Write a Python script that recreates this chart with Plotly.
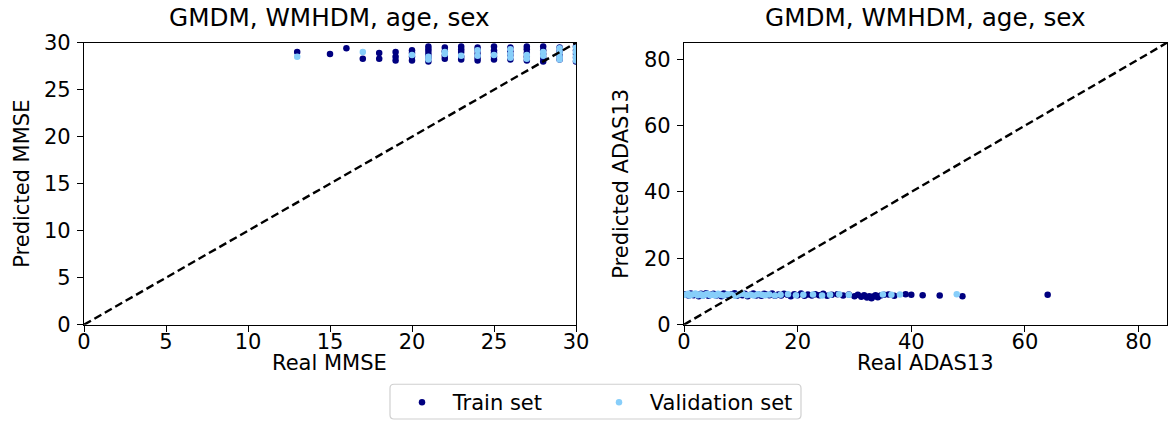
import plotly.graph_objects as go

# ---- MMSE panel: real vs predicted ----
mmse_train_real = [13, 15, 16, 17, 18, 18, 19, 19, 19, 20, 20, 20, 20,
                   21, 21, 21, 21, 21, 21, 22, 22, 22, 22,
                   23, 23, 23, 23, 23, 24, 24, 24, 24, 24,
                   25, 25, 25, 25, 25, 26, 26, 26, 26,
                   27, 27, 27, 27, 27, 28, 28, 28, 28, 28,
                   29, 29, 29, 29, 30, 30, 30, 30, 30]
mmse_train_pred = [29.0, 28.8, 29.4, 28.3, 28.9, 28.3, 29.0, 28.5, 28.1, 29.2, 28.9, 28.5, 28.1,
                   29.6, 29.3, 29.0, 28.7, 28.4, 28.0, 29.5, 29.1, 28.6, 28.3,
                   29.6, 29.3, 29.0, 28.5, 28.2, 29.5, 29.2, 28.8, 28.4, 28.1,
                   29.6, 29.2, 28.9, 28.5, 28.2, 29.5, 29.1, 28.7, 28.2,
                   29.6, 29.3, 28.9, 28.5, 28.1, 29.6, 29.2, 28.8, 28.4, 28.0,
                   29.5, 29.1, 28.6, 28.2, 29.6, 29.2, 28.8, 28.4, 28.0]

mmse_val_real = [13, 17, 20, 21, 21, 22, 22, 23, 24, 24, 25,
                 26, 26, 26, 27, 27, 28, 28, 29, 29, 29, 29, 30, 30, 30, 30]
mmse_val_pred = [28.5, 29.0, 28.7, 28.5, 28.2, 29.0, 28.8, 28.6, 29.2, 28.6, 28.7,
                 29.3, 28.8, 28.4, 28.7, 28.3, 29.0, 28.6, 29.4, 29.0, 28.5, 28.2,
                 29.5, 29.0, 28.5, 28.1]

# ---- ADAS13 panel: real vs predicted ----
adas_train_real = [0.3, 0.8, 1.2, 1.7, 2.1, 2.6, 3.0, 3.4, 3.9, 4.3, 4.8, 5.2, 5.7, 6.1,
                   6.6, 7.0, 7.5, 8.0, 8.4, 8.9, 9.3, 9.8, 10.3, 10.7, 11.2, 11.7, 12.2,
                   12.7, 13.1, 13.6, 14.1, 14.6, 15.0, 15.5, 16.0, 16.6, 17.1, 17.6, 18.2,
                   18.8, 19.4, 20.0, 20.6, 21.2, 21.8, 22.5, 23.1, 23.8, 24.5, 25.2, 26.0,
                   27.0, 28.0, 29.0, 30.0, 30.6, 31.2, 31.7, 32.2, 32.6, 33.0, 33.3, 33.7,
                   34.1, 34.6, 35.2, 36.0, 37.0, 39.0, 40.0, 42.0, 45.0, 49.0, 64.0]
adas_train_pred = [9.2, 8.8, 9.4, 8.9, 9.1, 8.6, 9.3, 8.9, 9.5, 8.7, 9.0, 9.3, 8.8, 9.1,
                   8.6, 9.4, 9.0, 8.8, 9.2, 9.5, 8.7, 9.1, 8.9, 9.3, 8.6, 9.0, 9.4,
                   8.8, 9.1, 8.7, 9.3, 9.0, 8.9, 9.4, 8.7, 9.1, 8.8, 9.3, 9.0,
                   8.6, 9.2, 8.9, 9.4, 8.7, 9.1, 8.8, 9.2, 8.9, 9.3, 8.7, 9.0,
                   9.2, 8.8, 9.1, 8.6, 9.0, 8.4, 8.9, 8.2, 8.6, 8.0, 8.5, 8.9,
                   8.3, 8.8, 9.0, 9.1, 8.7, 9.2, 9.0, 8.9, 8.8, 8.6, 9.0]

adas_val_real = [0.2, 0.7, 1.0, 1.5, 2.0, 2.4, 2.9, 3.3, 3.7, 4.1, 4.6, 5.0, 5.5, 6.0,
                 6.4, 7.0, 7.7, 8.3, 9.0, 9.6, 10.3, 11.0, 11.7, 12.3, 13.0, 13.7, 14.3,
                 15.0, 16.0, 17.0, 18.3, 19.7, 21.0, 22.7, 24.3, 25.7, 27.3, 29.0,
                 35.0, 36.5, 38.0, 48.0]
adas_val_pred = [9.0, 9.3, 8.8, 9.1, 9.4, 8.9, 9.2, 8.7, 9.0, 9.3, 8.9, 9.1, 8.8, 9.3,
                 9.0, 8.8, 9.2, 9.0, 8.7, 9.1, 9.3, 8.9, 9.0, 8.8, 9.2, 9.0, 8.9,
                 9.1, 8.8, 9.0, 9.2, 8.9, 9.0, 9.1, 8.8, 9.0, 9.2, 9.0,
                 9.1, 9.0, 9.1, 9.2]

titles = ["GMDM, WMHDM, age, sex", "GMDM, WMHDM, age, sex"]
x_labels = ["Real MMSE", "Real ADAS13"]
y_labels = ["Predicted MMSE", "Predicted ADAS13"]
series_names = ["Train set", "Validation set"]
mmse_ticks = [0, 5, 10, 15, 20, 25, 30]
adas_ticks = [0, 20, 40, 60, 80]
mmse_max = 30
adas_max = 85

TRAIN_COLOR = "#000080"
VAL_COLOR = "#87CEFA"
FONT = "DejaVu Sans"
W, H = 1175, 423
MS = 6.5
PAD = "\u00a0\u2009"
FS = 21          # tick, label and legend text
FS_TITLE = 24.7  # panel titles

fig = go.Figure()

# left panel
fig.add_trace(go.Scatter(x=mmse_train_real, y=mmse_train_pred, mode="markers",
                         marker=dict(color=TRAIN_COLOR, size=MS), name=PAD + series_names[0],
                         legendgroup="train", xaxis="x", yaxis="y"))
fig.add_trace(go.Scatter(x=mmse_val_real, y=mmse_val_pred, mode="markers",
                         marker=dict(color=VAL_COLOR, size=MS), name=PAD + series_names[1],
                         legendgroup="val", xaxis="x", yaxis="y"))
fig.add_trace(go.Scatter(x=[0, mmse_max], y=[0, mmse_max], mode="lines",
                         line=dict(color="black", width=2.4, dash="8px,4px"),
                         showlegend=False, xaxis="x", yaxis="y"))

# right panel
fig.add_trace(go.Scatter(x=adas_train_real, y=adas_train_pred, mode="markers",
                         marker=dict(color=TRAIN_COLOR, size=MS), name=series_names[0],
                         legendgroup="train", showlegend=False, xaxis="x2", yaxis="y2"))
fig.add_trace(go.Scatter(x=adas_val_real, y=adas_val_pred, mode="markers",
                         marker=dict(color=VAL_COLOR, size=MS), name=series_names[1],
                         legendgroup="val", showlegend=False, xaxis="x2", yaxis="y2"))
fig.add_trace(go.Scatter(x=[0, adas_max], y=[0, adas_max], mode="lines",
                         line=dict(color="black", width=2.4, dash="8px,4px"),
                         showlegend=False, xaxis="x2", yaxis="y2"))

TICK_FONT = dict(family=FONT, size=FS, color="black")
axis_common = dict(showline=True, mirror=True, linecolor="black", linewidth=1.3,
                   ticks="outside", ticklen=6, tickwidth=1.3, tickcolor="black",
                   showgrid=False, zeroline=False, tickfont=TICK_FONT, automargin=False)
x_common = dict(axis_common, ticklabelstandoff=-8)
y_common = dict(axis_common, ticklabelstandoff=2)

left_dom = [84 / W, 576 / W]
right_dom = [684 / W, 1167 / W]
y_dom = [1 - 327 / H, 1 - 43 / H]

fig.update_layout(
    width=W, height=H,
    margin=dict(l=0, r=0, t=0, b=0, pad=0),
    paper_bgcolor="white", plot_bgcolor="white",
    font=dict(family=FONT, color="black"),
    xaxis=dict(domain=left_dom, range=[0, mmse_max], tickvals=mmse_ticks,
               anchor="y", **x_common),
    yaxis=dict(domain=y_dom, range=[0, mmse_max], tickvals=mmse_ticks,
               anchor="x", **y_common),
    xaxis2=dict(domain=right_dom, range=[0, adas_max], tickvals=adas_ticks,
                anchor="y2", **x_common),
    yaxis2=dict(domain=y_dom, range=[0, adas_max], tickvals=adas_ticks,
                anchor="x2", **y_common),
    legend=dict(orientation="h", x=402 / W, xanchor="left", y=1 - 385 / H, yanchor="top",
                font=dict(family=FONT, size=FS, color="black"),
                borderwidth=0, bgcolor="rgba(0,0,0,0)",
                entrywidth=152, itemsizing="trace"),
    # legend frame
    shapes=[dict(type="path", xref="paper", yref="paper", layer="above",
                 path=("M {a},{b} L {c},{b} Q {d},{b} {d},{e} L {d},{f} Q {d},{g} {c},{g} "
                       "L {a},{g} Q {h},{g} {h},{f} L {h},{e} Q {h},{b} {a},{b} Z").format(
                     a=394 / W, c=797 / W, d=801 / W, h=390 / W,
                     b=1 - 387 / H, e=1 - 391 / H, f=1 - 418 / H, g=1 - 422 / H),
                 line=dict(color="#d0d0d0", width=1.2), fillcolor="rgba(0,0,0,0)")],
)

annotations = []
for dom, t, xl in [(left_dom, titles[0], x_labels[0]), (right_dom, titles[1], x_labels[1])]:
    cx = (dom[0] + dom[1]) / 2
    annotations.append(dict(text=t, x=cx, y=1 - 18 / H, xref="paper", yref="paper",
                            xanchor="center", yanchor="middle", showarrow=False,
                            font=dict(family=FONT, size=FS_TITLE, color="black")))
    annotations.append(dict(text=xl, x=cx, y=1 - 366 / H, xref="paper", yref="paper",
                            xanchor="center", yanchor="middle", showarrow=False,
                            font=dict(family=FONT, size=FS, color="black")))
for xpos, yl in [(22 / W, y_labels[0]), (621 / W, y_labels[1])]:
    annotations.append(dict(text=yl, x=xpos, y=(y_dom[0] + y_dom[1]) / 2,
                            xref="paper", yref="paper", xanchor="center", yanchor="middle",
                            textangle=-90, showarrow=False,
                            font=dict(family=FONT, size=FS, color="black")))
fig.update_layout(annotations=annotations)

fig.write_html(
    "out.html",
    post_script="document.body.style.margin='0';document.body.style.overflow='hidden';"
                "document.documentElement.style.overflow='hidden';",
)
